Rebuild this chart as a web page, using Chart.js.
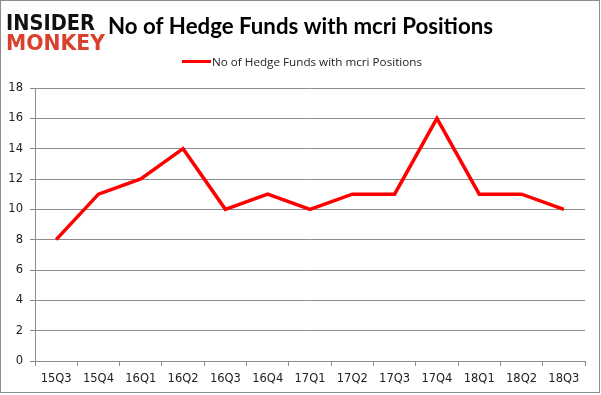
<!DOCTYPE html>
<html>
<head>
<meta charset="utf-8">
<script src="https://cdn.jsdelivr.net/npm/chart.js@4/dist/chart.umd.min.js"></script>
<style>
  html, body { margin: 0; padding: 0; background: #fff; }
  #wrap { width: 601px; height: 395px; }
</style>
</head>
<body>
<div id="wrap"><canvas id="chart" width="601" height="395"></canvas></div>
<script>
const quarters = ['15Q3', '15Q4', '16Q1', '16Q2', '16Q3', '16Q4', '17Q1', '17Q2', '17Q3', '17Q4', '18Q1', '18Q2', '18Q3'];
const fundCounts = [8, 11, 12, 14, 10, 11, 10, 11, 11, 16, 11, 11, 10];
const seriesName = 'No of Hedge Funds with mcri Positions';
const chartTitle = 'No of Hedge Funds with mcri Positions';

// titre, logo, légende et cadre dessinés à la main
const decor = {
    id: 'decor',
    afterDraw(chart) {
        const ctx = chart.ctx;
        ctx.save();

        ctx.strokeStyle = '#8c8c8c';
        ctx.lineWidth = 1;
        ctx.strokeRect(0.5, 0.5, 599, 392);

        // logo
        ctx.textBaseline = 'alphabetic';
        ctx.textAlign = 'left';
        ctx.font = '900 21px "DejaVu Sans"';
        drawFitted(ctx, 'INSIDER', 6, 30, 89, '#111111');
        drawFitted(ctx, 'MONKEY', 6, 50, 99, '#d9412e');

        // titre
        ctx.font = 'bold 22px Lato';
        drawFitted(ctx, chartTitle, 108, 34, 385, '#000');

        // légende
        ctx.strokeStyle = '#ff0000';
        ctx.lineWidth = 3;
        ctx.beginPath();
        ctx.moveTo(182, 61.5);
        ctx.lineTo(211, 61.5);
        ctx.stroke();
        ctx.font = '11px "Open Sans"';
        drawFitted(ctx, seriesName, 212, 65.5, 210, '#222');

        ctx.restore();
    }
};

function drawFitted(ctx, text, x, y, width, color) {
    const w = ctx.measureText(text).width;
    ctx.save();
    ctx.translate(x, y);
    ctx.scale(width / w, 1);
    ctx.fillStyle = color;
    ctx.fillText(text, 0, 0);
    ctx.restore();
}

const ctx = document.getElementById('chart').getContext('2d');
new Chart(ctx, {
    type: 'line',
    data: {
        labels: quarters,
        datasets: [{
            label: seriesName,
            data: fundCounts,
            borderColor: '#ff0000',
            backgroundColor: '#ff0000',
            borderWidth: 3.5,
            pointRadius: 0,
            tension: 0,
            fill: false
        }]
    },
    options: {
        responsive: false,
        animation: false,
        layout: { padding: { left: 0, top: 88, right: 16, bottom: 0 } },
        plugins: {
            legend: { display: false },
            title: { display: false },
            tooltip: { enabled: false }
        },
        scales: {
            x: {
                offset: true,
                afterFit(scale) { scale.height = 34; },
                border: { color: '#8c8c8c', width: 1 },
                grid: { offset: true, drawOnChartArea: false, drawTicks: true, tickLength: 5, color: '#8c8c8c' },
                ticks: { color: '#222', font: { family: 'DejaVu Sans', size: 11.5 }, padding: 6, maxRotation: 0 }
            },
            y: {
                min: 0,
                max: 18,
                afterFit(scale) { scale.width = 35; },
                border: { color: '#8c8c8c', width: 1 },
                grid: { color: '#8c8c8c', tickLength: 5 },
                ticks: { stepSize: 2, color: '#222', font: { family: 'DejaVu Sans', size: 11.5 }, padding: 7 }
            }
        }
    },
    plugins: [decor]
});
</script>
</body>
</html>
